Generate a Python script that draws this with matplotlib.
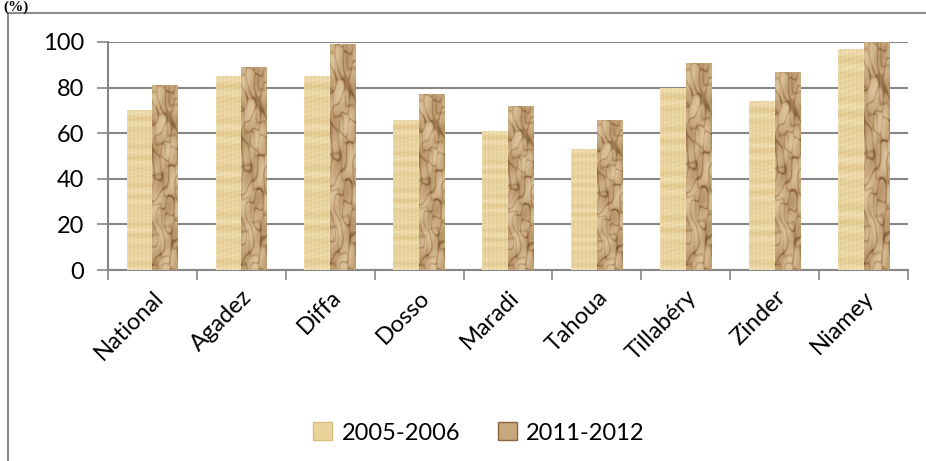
import numpy as np
import matplotlib.pyplot as plt
from matplotlib.colors import LinearSegmentedColormap
from matplotlib.lines import Line2D
import matplotlib.patches as mpatches

regions = ['National', 'Agadez', 'Diffa', 'Dosso', 'Maradi', 'Tahoua',
           'Tillabéry', 'Zinder', 'Niamey']
y2005 = [70, 85, 85, 66, 61, 53, 80, 74, 97]
y2011 = [81, 89, 99, 77, 72, 66, 91, 87, 100]
series = ['2005-2006', '2011-2012']
yticks = [0, 20, 40, 60, 80, 100]

plt.rcParams['font.family'] = ['Lato', 'DejaVu Sans']
grey = '#868686'
fs = 17

# textures (papyrus for 2005, crumpled paper for 2011)
gy, gx = np.mgrid[0:1:300j, 0:1:40j]
pap = (0.55 + 0.12 * np.sin(gy * 90) * np.sin(gy * 13 + 1.0)
       + 0.08 * np.sin(gx * 40 + 0.5) + 0.05 * np.sin(gy * 260 + gx * 9))
pap_cmap = LinearSegmentedColormap.from_list('pap', ['#dcc083', '#f5e6bb'])

h = (np.sin(gx * 7 + gy * 29) + 0.8 * np.sin(gx * 13 - gy * 19 + 1.3)
     + 0.6 * np.sin(gx * 4 + gy * 47 + 2.1) + 0.5 * np.sin(-gx * 11 + gy * 37 + 0.4))
h2 = (np.sin(gx * 5 - gy * 17 + 0.7) + 0.7 * np.sin(gx * 9 + gy * 23 + 2.4))
crease = np.exp(-(h / 0.25) ** 2) + 0.6 * np.exp(-(h2 / 0.2) ** 2)
crm = 0.65 + 0.2 * np.sin(gx * 6 + gy * 11) * np.sin(gy * 21 + 0.3) - 0.45 * crease
crm_cmap = LinearSegmentedColormap.from_list(
    'crm', ['#5e3d1c', '#86603a', '#a98459', '#c6a57a', '#dcc39c'])

fig = plt.figure(figsize=(9.26, 4.61), dpi=100)
ax = fig.add_axes([108 / 926, 1 - 270 / 461, 800 / 926, 228 / 461])

x = np.arange(len(regions))
w = 0.29
b1 = ax.bar(x - w / 2, y2005, w, color='#ebd49c', zorder=2)
b2 = ax.bar(x + w / 2, y2011, w, color='#a98459', zorder=2)

for bars, tex, cm in [(b1, pap, pap_cmap), (b2, crm, crm_cmap)]:
    for p in bars:
        x0, y0 = p.get_x(), p.get_y()
        im = ax.imshow(tex, cmap=cm, aspect='auto', zorder=3, interpolation='bilinear',
                       extent=[x0, x0 + p.get_width(), y0, y0 + p.get_height()])
        im.set_clip_path(p)

ax.set_xlim(-0.5, len(regions) - 0.5)
ax.set_ylim(0, 100)
ax.set_yticks(yticks)
ax.set_yticklabels([str(t) for t in yticks], fontsize=fs)
ax.set_xticks(np.arange(len(regions) + 1) - 0.5)
ax.set_xticklabels([])
ax.set_xticks(x, minor=True)
ax.set_xticklabels(regions, minor=True, rotation=45, ha='right', va='top',
                   rotation_mode='anchor', fontsize=fs)
ax.tick_params(axis='x', which='minor', length=0, pad=12)
ax.tick_params(axis='x', which='major', length=7, width=1.2, color=grey, direction='out')
ax.tick_params(axis='y', length=8, width=1.2, color=grey, direction='out', pad=9)
ax.grid(axis='y', color=grey, lw=1.5, zorder=1)
for s in ['top', 'right']:
    ax.spines[s].set_visible(False)
for s in ['left', 'bottom']:
    ax.spines[s].set_color(grey)
    ax.spines[s].set_linewidth(1.5)
ax.set_axisbelow(True)

handles = [mpatches.Patch(facecolor='#ebd49c', edgecolor='#d9bd80'),
           mpatches.Patch(facecolor='#c8a87e', edgecolor='#8a6640')]
fig.legend(handles, series, loc='center', bbox_to_anchor=(479 / 926, 1 - 433 / 461),
           ncol=2, frameon=False, fontsize=fs, handlelength=0.8, handleheight=0.8,
           handletextpad=0.4, columnspacing=1.6)

# outer chart frame (left and top edges visible)
fig.add_artist(Line2D([8 / 926, 8 / 926, 1], [0, 1 - 13 / 461, 1 - 13 / 461],
                      transform=fig.transFigure, color='#8c8c8c', lw=1.5))
fig.text(3 / 926, 1 - 0.5 / 461, '(%)', family='Liberation Serif', fontweight='bold',
         fontsize=11, va='top', ha='left')

fig.savefig('out.png', dpi=100)
